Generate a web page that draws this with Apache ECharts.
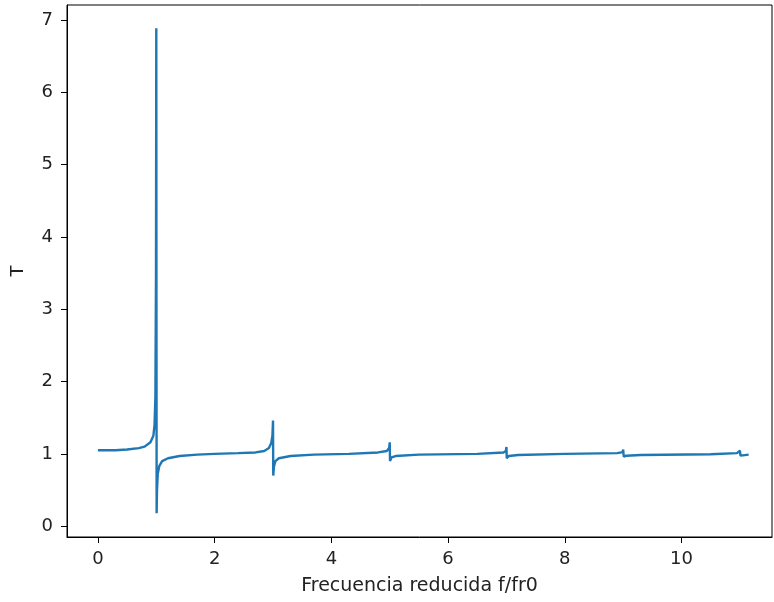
<!DOCTYPE html>
<html>
<head>
<meta charset="utf-8">
<script src="https://cdn.jsdelivr.net/npm/echarts@6/dist/echarts.min.js"></script>
<style>html,body{margin:0;padding:0;background:#fff;}#c{width:774px;height:602px;}</style>
</head>
<body>
<div id="c"></div>
<script>
const xTicks = [0, 2, 4, 6, 8, 10];
const yTicks = [0, 1, 2, 3, 4, 5, 6, 7];
const freq = [0, 0.3, 0.5, 0.7, 0.8, 0.9, 0.95, 0.97, 0.985, 0.995, 1.0, 1.003, 1.006, 1.012, 1.025, 1.05, 1.1, 1.2, 1.4, 1.7, 2.0, 2.4, 2.7, 2.85, 2.93, 2.97, 2.99, 3.0, 3.004, 3.015, 3.04, 3.1, 3.3, 3.7, 4.3, 4.8, 4.95, 4.99, 5.0, 5.005, 5.03, 5.1, 5.5, 6.5, 6.95, 6.99, 7.0, 7.005, 7.04, 7.2, 8.0, 8.9, 8.99, 9.0, 9.01, 9.05, 9.3, 10.5, 10.95, 11.0, 11.01, 11.05, 11.15];
const trans = [1.05, 1.05, 1.06, 1.08, 1.10, 1.16, 1.25, 1.40, 1.8, 3.5, 6.89, 3.0, 0.18, 0.5, 0.72, 0.83, 0.90, 0.94, 0.97, 0.99, 1.0, 1.01, 1.02, 1.04, 1.08, 1.15, 1.25, 1.46, 0.70, 0.82, 0.90, 0.94, 0.97, 0.99, 1.0, 1.02, 1.04, 1.08, 1.16, 0.90, 0.95, 0.97, 0.99, 1.0, 1.02, 1.04, 1.095, 0.94, 0.97, 0.985, 1.0, 1.01, 1.025, 1.06, 0.96, 0.975, 0.985, 0.995, 1.01, 1.044, 0.975, 0.98, 0.99];

const data = freq.map((f, i) => [f, trans[i]]);
const font = 'DejaVu Sans';
const chart = echarts.init(document.getElementById('c'), null, {renderer: 'canvas'});
chart.setOption({
  animation: false,
  backgroundColor: '#fff',
  grid: {left: 67, right: 2, top: 5, bottom: 65, show: true, borderColor: '#000', borderWidth: 1, backgroundColor: 'transparent'},
  xAxis: {
    type: 'value', min: -0.53, max: 11.55,
    name: 'Frecuencia reducida f/fr0', nameLocation: 'middle', nameGap: 40,
    nameTextStyle: {fontFamily: font, fontSize: 19, color: '#222'},
    axisLine: {show: true, onZero: false, lineStyle: {color: '#000', width: 1}},
    axisTick: {show: true, inside: false, length: 6, lineStyle: {color: '#000'}, customValues: xTicks},
    axisLabel: {fontFamily: font, fontSize: 18, color: '#222', margin: 13, customValues: xTicks},
    splitLine: {show: false}
  },
  yAxis: {
    type: 'value', min: -0.15, max: 7.21,
    name: 'T', nameLocation: 'middle', nameGap: 40,
    nameTextStyle: {fontFamily: font, fontSize: 18, color: '#222'},
    axisLine: {show: true, onZero: false, lineStyle: {color: '#000', width: 1}},
    axisTick: {show: true, inside: false, length: 6, lineStyle: {color: '#000'}, customValues: yTicks},
    axisLabel: {fontFamily: font, fontSize: 18, color: '#222', margin: 14, customValues: yTicks},
    splitLine: {show: false}
  },
  series: [{
    type: 'line', data: data, showSymbol: false, smooth: false,
    lineStyle: {color: '#1f77b4', width: 2.4}, itemStyle: {color: '#1f77b4'}
  }]
});
</script>
</body>
</html>
